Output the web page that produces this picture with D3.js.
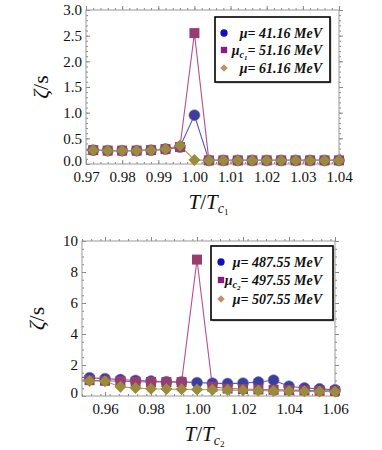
<!DOCTYPE html>
<html>
<head>
<meta charset="utf-8">
<script src="https://cdn.jsdelivr.net/npm/d3@7"></script>
<style>
  body { margin: 0; background: #fff; }
  svg text { font-family: "Times New Roman", "Liberation Serif", "DejaVu Serif", serif; }
</style>
</head>
<body>
<script>
// panel 1 data (first point sits just left of the frame, only its line shows)
let t1 = [0.968, 0.972, 0.976, 0.980, 0.984, 0.988, 0.992, 0.996, 1.000, 1.004,
          1.008, 1.012, 1.016, 1.020, 1.024, 1.028, 1.032, 1.036, 1.040];
let blue1 = [0.28, 0.27, 0.26, 0.26, 0.26, 0.27, 0.29, 0.33, 0.95, 0.07,
             0.07, 0.07, 0.07, 0.07, 0.07, 0.07, 0.07, 0.07, 0.07];
let purple1 = [0.28, 0.27, 0.26, 0.26, 0.26, 0.27, 0.29, 0.33, 2.55, 0.07,
               0.07, 0.07, 0.07, 0.07, 0.07, 0.07, 0.07, 0.07, 0.07];
let gold1 = [0.28, 0.27, 0.26, 0.26, 0.26, 0.27, 0.29, 0.36, 0.08, 0.07,
             0.07, 0.07, 0.07, 0.07, 0.07, 0.07, 0.07, 0.07, 0.07];
let xTicks1 = [0.97, 0.98, 0.99, 1.00, 1.01, 1.02, 1.03, 1.04];
let yTicks1 = [0, 0.5, 1.0, 1.5, 2.0, 2.5, 3.0];
let legend1 = ["41.16 MeV", "51.16 MeV", "61.16 MeV"];

// panel 2 data
let t2 = [0.9467, 0.9533, 0.9600, 0.9667, 0.9733, 0.9800, 0.9867, 0.9933, 1.0000,
          1.0067, 1.0133, 1.0200, 1.0267, 1.0333, 1.0400, 1.0467, 1.0533, 1.0600];
let blue2 = [1.22, 1.18, 1.12, 1.06, 1.00, 0.96, 0.92, 0.91, 0.86,
             0.83, 0.80, 0.83, 0.90, 1.02, 0.63, 0.52, 0.46, 0.40];
let purple2 = [1.05, 1.02, 0.98, 0.95, 0.92, 0.90, 0.90, 0.90, 8.80,
               0.60, 0.48, 0.45, 0.42, 0.40, 0.38, 0.36, 0.34, 0.33];
let gold2 = [1.00, 0.97, 0.95, 0.60, 0.52, 0.47, 0.45, 0.43, 0.42,
             0.40, 0.38, 0.37, 0.35, 0.33, 0.32, 0.30, 0.29, 0.28];
let xTicks2 = [0.96, 0.98, 1.00, 1.02, 1.04, 1.06];
let yTicks2 = [0, 2, 4, 6, 8, 10];
let legend2 = ["487.55 MeV", "497.55 MeV", "507.55 MeV"];

var serif = "'Times New Roman', 'Liberation Serif', serif";

var svg = d3.select("body").append("svg")
  .attr("width", 382)
  .attr("height", 450)
  .style("font-family", serif);

var lineCols = ["#5a5ab8", "#b8508f", "#a89c4c"];
var dotCols = ["#3d3d9e", "#993d71", "#998c3d"];
var legCols = ["#1010c0", "#8a1a86", "#c0906a"];
var shapes = [d3.symbolCircle, d3.symbolSquare, d3.symbolSquare];
var sizes = [95, 100, 72];

function drawPanel(p) {
  var g = svg.append("g");
  var x = d3.scaleLinear().domain(p.xd).range([p.left, p.right]);
  var y = d3.scaleLinear().domain(p.yd).range([p.bottom, p.top]);

  var clipId = "clip" + p.id;
  svg.append("clipPath").attr("id", clipId)
    .append("rect")
    .attr("x", p.left).attr("y", p.top - 10)
    .attr("width", p.right - p.left).attr("height", p.bottom - p.top + 10);

  // minor ticks, inward, on all four sides
  var xMinor = d3.range(p.xd[0], p.xd[1] + 1e-9, p.xMinor);
  var yMinor = d3.range(p.yd[0], p.yd[1] + 1e-9, p.yMinor);
  [[d3.axisBottom, p.bottom, -2], [d3.axisTop, p.top, 2]].forEach(a => {
    g.append("g").attr("transform", "translate(0," + a[1] + ")")
      .call(a[0](x).tickValues(xMinor).tickSize(a[2]).tickFormat(""))
      .call(s => s.select(".domain").remove());
  });
  [[d3.axisLeft, p.left, -2], [d3.axisRight, p.right, 2]].forEach(a => {
    g.append("g").attr("transform", "translate(" + a[1] + ",0)")
      .call(a[0](y).tickValues(yMinor).tickSize(a[2]).tickFormat(""))
      .call(s => s.select(".domain").remove());
  });

  // major ticks with labels
  var xa = g.append("g").attr("transform", "translate(0," + p.bottom + ")")
    .call(d3.axisBottom(x).tickValues(p.xTicks).tickSize(-4).tickPadding(7)
      .tickFormat(d3.format(".2f")));
  xa.attr("font-family", serif);
  xa.select(".domain").remove();
  xa.selectAll("text").attr("font-size", 15).attr("fill", "#111");

  g.append("g").attr("transform", "translate(0," + p.top + ")")
    .call(d3.axisTop(x).tickValues(p.xTicks).tickSize(4).tickFormat(""))
    .call(s => s.select(".domain").remove());

  var ya = g.append("g").attr("transform", "translate(" + p.left + ",0)")
    .call(d3.axisLeft(y).tickValues(p.yTicks).tickSize(-4).tickPadding(4)
      .tickFormat(d3.format(p.yFmt)));
  ya.attr("font-family", serif);
  ya.select(".domain").remove();
  ya.selectAll("text").attr("font-size", 15).attr("fill", "#111");
  ya.selectAll("text").filter(d => d == 0).attr("dy", "0.1em");

  g.append("g").attr("transform", "translate(" + p.right + ",0)")
    .call(d3.axisRight(y).tickValues(p.yTicks).tickSize(4).tickFormat(""))
    .call(s => s.select(".domain").remove());

  g.selectAll(".tick line").attr("stroke", "#888");

  // frame
  g.append("rect")
    .attr("x", p.left).attr("y", p.top)
    .attr("width", p.right - p.left).attr("height", p.bottom - p.top)
    .attr("fill", "none").attr("stroke", "#999").attr("stroke-width", 1);

  // lines
  var line = d3.line().x(d => x(d[0])).y(d => y(d[1]));
  p.series.forEach((s, i) => {
    var pts = p.t.map((t, j) => [t, s[j]]);
    g.append("path").datum(pts)
      .attr("clip-path", "url(#" + clipId + ")")
      .attr("fill", "none")
      .attr("stroke", lineCols[i])
      .attr("stroke-width", 1.1)
      .attr("d", line);
  });

  // markers
  p.series.forEach((s, i) => {
    var pts = p.t.map((t, j) => [t, s[j]])
      .filter(d => d[0] >= p.xd[0] - 1e-9 && d[0] <= p.xd[1] + 1e-9);
    g.selectAll(null).data(pts).enter().append("path")
      .attr("d", d3.symbol().type(shapes[i]).size(sizes[i]))
      .attr("transform", d => "translate(" + x(d[0]) + "," + y(d[1]) + ")" + (i == 2 ? " rotate(45)" : ""))
      .attr("fill", dotCols[i])
      .attr("stroke", i == 0 ? "#7a70c8" : "none")
      .attr("stroke-width", 0.6);
  });

  // axis labels
  var yl = svg.append("text")
    .attr("transform", "translate(" + (p.left - 38) + "," + ((p.top + p.bottom) / 2) + ") rotate(-90)")
    .attr("text-anchor", "middle")
    .attr("font-size", 22)
    .attr("fill", "#111");
  yl.append("tspan").attr("font-style", "italic").text("ζ");
  yl.append("tspan").text("/s");

  var xl = svg.append("text")
    .attr("x", (p.left + p.right) / 2 - 4)
    .attr("y", p.xLabelY)
    .attr("text-anchor", "middle")
    .attr("font-size", 21)
    .attr("fill", "#111");
  xl.append("tspan").attr("font-style", "italic").text("T");
  xl.append("tspan").text("/");
  xl.append("tspan").attr("font-style", "italic").text("T");
  xl.append("tspan").attr("font-style", "italic").attr("font-size", 14).attr("dy", 4).text("c");
  xl.append("tspan").attr("font-size", 9).attr("dy", 2).text(p.id);

  // legend
  var L = p.leg;
  var lg = svg.append("g");
  lg.append("rect")
    .attr("x", L.x + 1.5).attr("y", L.y + 1.5).attr("width", L.w).attr("height", L.h)
    .attr("fill", "#bbb");
  lg.append("rect")
    .attr("x", L.x).attr("y", L.y).attr("width", L.w).attr("height", L.h)
    .attr("fill", "#fff").attr("stroke", "#000").attr("stroke-width", 1.6);
  p.legText.forEach((txt, i) => {
    var cy = L.rows[i];
    lg.append("path")
      .attr("d", d3.symbol().type(shapes[i]).size([42, 40, 28][i]))
      .attr("transform", "translate(" + L.mx + "," + cy + ")" + (i == 2 ? " rotate(45)" : ""))
      .attr("fill", legCols[i]);
    var t = lg.append("text")
      .attr("x", L.tx).attr("y", cy + 5)
      .attr("text-anchor", "end")
      .attr("font-size", 14)
      .attr("font-weight", "bold")
      .attr("font-style", "italic")
      .attr("fill", "#111");
    t.append("tspan").text("μ");
    if (i == 1) {
      t.append("tspan").attr("font-size", 10).attr("dy", 3).text("c");
      t.append("tspan").attr("font-size", 7).attr("dy", 2).text(p.id);
      t.append("tspan").attr("dy", -5).text("= " + txt);
    } else {
      t.append("tspan").text("= " + txt);
    }
  });
}

drawPanel({
  id: "1", left: 86, right: 339, top: 10, bottom: 164,
  xd: [0.97, 1.04], yd: [0, 3], xMinor: 0.002, yMinor: 0.1,
  xTicks: xTicks1, yTicks: yTicks1, yFmt: ".1f",
  t: t1, series: [blue1, purple1, gold1],
  xLabelY: 209,
  legText: legend1,
  leg: { x: 215, y: 17, w: 115, h: 65, rows: [33, 50, 68], mx: 224, tx: 322 }
});

drawPanel({
  id: "2", left: 82, right: 335, top: 241, bottom: 396,
  xd: [0.95, 1.06], yd: [0, 10], xMinor: 0.004, yMinor: 0.5,
  xTicks: xTicks2, yTicks: yTicks2, yFmt: "d",
  t: t2, series: [blue2, purple2, gold2],
  xLabelY: 441,
  legText: legend2,
  leg: { x: 211, y: 246, w: 122, h: 74, rows: [262, 280, 299], mx: 221, tx: 322 }
});
</script>
</body>
</html>
